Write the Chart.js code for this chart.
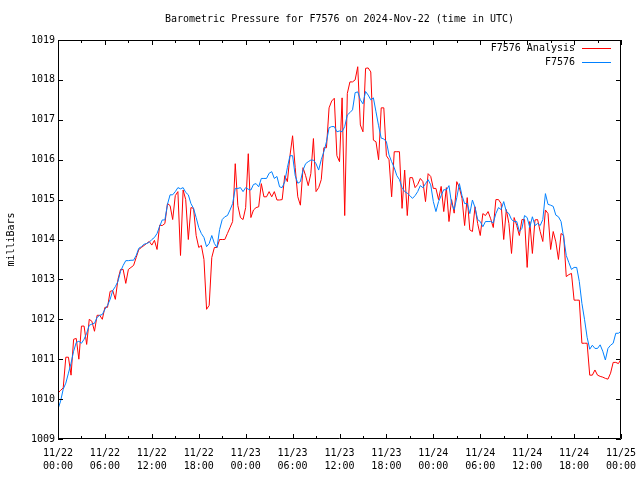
<!DOCTYPE html>
<html>
<head>
<meta charset="utf-8">
<script src="https://cdn.jsdelivr.net/npm/chart.js@4"></script>
<style>
  html, body { margin: 0; padding: 0; background: #fff; }
  canvas { display: block; }
</style>
</head>
<body>
<canvas id="chart" width="640" height="480"></canvas>
<script>
var TITLE = "Barometric Pressure for F7576 on 2024-Nov-22 (time in UTC)";
var FONT = "'DejaVu Sans Mono', 'Liberation Mono', monospace";

// samples every 20 minutes, 11/22 00:00 .. 11/25 00:00
var SAMPLE_HOURS = 1 / 3;

var xTickLabels = [
  ["11/22", "00:00"], ["11/22", "06:00"], ["11/22", "12:00"], ["11/22", "18:00"],
  ["11/23", "00:00"], ["11/23", "06:00"], ["11/23", "12:00"], ["11/23", "18:00"],
  ["11/24", "00:00"], ["11/24", "06:00"], ["11/24", "12:00"], ["11/24", "18:00"],
  ["11/25", "00:00"],
];

var analysisValues = [
  1010.15, 1010.22, 1010.28, 1011.05, 1011.05, 1010.6,
  1011.5, 1011.52, 1011.0, 1011.83, 1011.83, 1011.37,
  1012.0, 1011.95, 1011.7, 1012.1, 1012.1, 1012.0,
  1012.3, 1012.3, 1012.7, 1012.72, 1012.5, 1013.0,
  1013.25, 1013.25, 1012.9, 1013.25, 1013.3, 1013.35,
  1013.55, 1013.75, 1013.8, 1013.85, 1013.9, 1013.95,
  1013.86, 1013.98, 1013.75, 1014.36, 1014.35, 1014.4,
  1014.9, 1014.85, 1014.5, 1015.1, 1015.2, 1013.6,
  1015.24, 1015.0, 1014.0, 1014.8, 1014.78, 1014.1,
  1013.8, 1013.85, 1013.5, 1012.25, 1012.35, 1013.55,
  1013.8, 1013.8, 1014.0, 1014.0, 1014.0, 1014.15,
  1014.3, 1014.45, 1015.9, 1014.85, 1014.55, 1014.5,
  1014.8, 1016.15, 1014.55, 1014.74, 1014.8, 1014.82,
  1015.4, 1015.07, 1015.07, 1015.2, 1015.07, 1015.2,
  1014.99, 1014.99, 1015.0, 1015.6, 1015.45, 1016.1,
  1016.6, 1015.8, 1015.07, 1014.86, 1015.8, 1015.6,
  1015.35, 1015.65, 1016.53, 1015.2, 1015.3, 1015.5,
  1016.3, 1016.3, 1017.3, 1017.47, 1017.54, 1016.1,
  1015.95, 1017.55, 1014.6, 1017.66, 1017.95, 1017.95,
  1018.0, 1018.33, 1016.87, 1016.7, 1018.29, 1018.3,
  1018.2, 1016.49, 1016.45, 1016.0, 1017.3, 1017.3,
  1016.1, 1016.0, 1015.07, 1016.2, 1016.2, 1016.2,
  1014.78, 1015.74, 1014.6, 1015.55, 1015.55, 1015.3,
  1015.38, 1015.53, 1015.45, 1014.95, 1015.65, 1015.58,
  1015.28, 1015.28, 1015.0, 1015.33, 1014.7, 1015.3,
  1014.45, 1015.0, 1014.66, 1015.45, 1015.3, 1015.03,
  1014.35, 1015.05, 1014.24, 1014.2, 1014.82, 1014.4,
  1014.1, 1014.65, 1014.6, 1014.7, 1014.52, 1014.3,
  1015.0, 1015.0, 1014.9, 1014.0, 1014.75, 1014.4,
  1013.65, 1014.55, 1014.35, 1014.1, 1014.5, 1014.5,
  1013.3, 1014.45, 1013.65, 1014.49, 1014.5, 1014.2,
  1013.95, 1014.74, 1014.65, 1013.75, 1014.2, 1013.94,
  1013.5, 1014.15, 1014.1, 1013.07, 1013.12, 1013.15,
  1012.48, 1012.48, 1012.48, 1011.4, 1011.4, 1011.4,
  1010.6, 1010.6, 1010.73, 1010.6, 1010.57, 1010.55,
  1010.52, 1010.5, 1010.65, 1010.92, 1010.92, 1010.89,
  1011.0,
];

var stationValues = [
  1009.75, 1009.95, 1010.25, 1010.4, 1010.65, 1010.9,
  1011.2, 1011.42, 1011.45, 1011.4, 1011.5, 1011.65,
  1011.85, 1011.88, 1011.9, 1012.05, 1012.1, 1012.12,
  1012.25, 1012.35, 1012.5, 1012.72, 1012.82, 1012.95,
  1013.2, 1013.35, 1013.47, 1013.47, 1013.48, 1013.48,
  1013.6, 1013.78, 1013.82, 1013.88, 1013.9, 1013.93,
  1014.0, 1014.05, 1014.15, 1014.33, 1014.49, 1014.49,
  1014.88, 1015.12, 1015.12, 1015.2, 1015.3, 1015.27,
  1015.3, 1015.18, 1015.12, 1014.9, 1014.78, 1014.55,
  1014.3, 1014.15, 1014.05, 1013.82, 1013.9, 1014.1,
  1013.9, 1013.8, 1014.25, 1014.5, 1014.57, 1014.6,
  1014.74, 1014.9, 1015.28, 1015.28, 1015.3, 1015.2,
  1015.3, 1015.26, 1015.24, 1015.38, 1015.4, 1015.32,
  1015.53, 1015.53, 1015.53, 1015.66, 1015.7, 1015.53,
  1015.58, 1015.32, 1015.3, 1015.45, 1015.8, 1016.1,
  1016.1, 1015.6, 1015.41, 1015.45, 1015.74, 1015.9,
  1015.95, 1015.99, 1015.99, 1015.9, 1015.74, 1016.0,
  1016.2, 1016.45, 1016.8, 1016.83, 1016.83, 1016.7,
  1016.72, 1016.7, 1016.83, 1017.12, 1017.18, 1017.25,
  1017.68, 1017.7, 1017.5, 1017.4, 1017.71, 1017.62,
  1017.5, 1017.55, 1017.2, 1016.85, 1016.54, 1016.52,
  1016.45, 1016.12, 1015.95, 1015.8, 1015.6, 1015.5,
  1015.3, 1015.2, 1015.16, 1015.1, 1015.03, 1015.1,
  1015.2, 1015.35, 1015.3, 1015.4, 1015.5, 1015.37,
  1014.95, 1014.7, 1014.95, 1015.1, 1015.25, 1015.24,
  1015.35, 1014.9, 1014.75, 1015.05, 1015.4, 1015.1,
  1014.9, 1014.9, 1014.65, 1014.99, 1014.8, 1014.5,
  1014.45, 1014.32, 1014.45, 1014.45, 1014.45, 1014.42,
  1014.65, 1014.8, 1014.75, 1014.95, 1014.7, 1014.65,
  1014.5, 1014.45, 1014.45, 1014.2, 1014.28, 1014.6,
  1014.55, 1014.3, 1014.57, 1014.35, 1014.4, 1014.35,
  1014.5, 1015.15, 1014.88, 1014.86, 1014.83, 1014.61,
  1014.57, 1014.45, 1014.05, 1013.6, 1013.42, 1013.25,
  1013.3, 1013.3, 1012.95, 1012.4, 1012.0, 1011.55,
  1011.25, 1011.35, 1011.27, 1011.27, 1011.36, 1011.2,
  1010.98, 1011.27, 1011.35, 1011.4, 1011.65, 1011.65,
  1011.7,
];

var COLORS = {
  analysis: "#ff0000",
  station: "#0080ff",
  text: "#000000",
};

function toPoints(values) {
  return values.map(function (v, i) {
    return { x: i * SAMPLE_HOURS, y: v };
  });
}

function seriesDataset(label, values, color, order) {
  return {
    label: label,
    data: toPoints(values),
    borderColor: color,
    backgroundColor: color,
    borderWidth: 1,
    pointRadius: 0,
    tension: 0,
    fill: false,
    order: order,
  };
}

// gnuplot style frame, inward ticks, title and legend
var framePlugin = {
  id: "frame",
  afterDraw: function (chart) {
    var ctx = chart.ctx;
    var a = chart.chartArea;
    var xs = chart.scales.x;
    var ys = chart.scales.y;
    ctx.save();
    ctx.strokeStyle = COLORS.text;
    ctx.lineWidth = 1;
    ctx.beginPath();
    ctx.rect(a.left + 0.5, a.top + 0.5, a.right - a.left - 1, a.bottom - a.top - 1);
    for (var h = 0; h <= 72; h += 3) {
      var px = Math.round(xs.getPixelForValue(h)) + 0.5;
      var len = h % 6 === 0 ? 5 : 3;
      ctx.moveTo(px, a.bottom);
      ctx.lineTo(px, a.bottom - len);
      ctx.moveTo(px, a.top);
      ctx.lineTo(px, a.top + len);
    }
    for (var p = 1009; p <= 1019; p += 1) {
      var py = Math.round(ys.getPixelForValue(p)) + 0.5;
      ctx.moveTo(a.left, py);
      ctx.lineTo(a.left + 5, py);
      ctx.moveTo(a.right, py);
      ctx.lineTo(a.right - 5, py);
    }
    ctx.stroke();

    ctx.fillStyle = COLORS.text;
    ctx.font = "10px " + FONT;
    ctx.textAlign = "center";
    ctx.textBaseline = "middle";
    ctx.fillText(TITLE, (a.left + a.right) / 2, 19);

    ctx.textAlign = "right";
    var legendItems = [chart.data.datasets[0], chart.data.datasets[1]];
    legendItems.forEach(function (ds, i) {
      var ly = 48 + i * 14;
      ctx.fillStyle = COLORS.text;
      ctx.fillText(ds.label, 575, ly);
      ctx.strokeStyle = ds.borderColor;
      ctx.beginPath();
      ctx.moveTo(582, ly + 0.5);
      ctx.lineTo(611, ly + 0.5);
      ctx.stroke();
    });
    ctx.restore();
  },
};

var ctx = document.getElementById("chart").getContext("2d");
new Chart(ctx, {
  type: "line",
  data: {
    datasets: [
      seriesDataset("F7576 Analysis", analysisValues, COLORS.analysis, 1),
      seriesDataset("F7576", stationValues, COLORS.station, 0),
    ],
  },
  plugins: [framePlugin],
  options: {
    responsive: false,
    devicePixelRatio: 1,
    animation: false,
    events: [],
    layout: { padding: { left: 0, right: 19, top: 40, bottom: 0 } },
    plugins: {
      legend: { display: false },
      tooltip: { enabled: false },
      title: { display: false },
    },
    scales: {
      x: {
        type: "linear",
        min: 0,
        max: 72,
        border: { display: false },
        grid: { display: false, drawTicks: false },
        afterFit: function (scale) {
          scale.height = 41;
          scale.paddingLeft = 0;
          scale.paddingRight = 0;
        },
        ticks: {
          stepSize: 6,
          autoSkip: false,
          maxRotation: 0,
          padding: 8,
          color: COLORS.text,
          font: { family: FONT, size: 10, lineHeight: 1.3 },
          callback: function (value, index) {
            return xTickLabels[index];
          },
        },
      },
      y: {
        min: 1009,
        max: 1019,
        border: { display: false },
        grid: { display: false, drawTicks: false },
        afterFit: function (scale) {
          scale.width = 58;
        },
        title: {
          display: true,
          text: "milliBars",
          color: COLORS.text,
          font: { family: FONT, size: 10 },
          padding: { top: 5, bottom: 0 },
        },
        ticks: {
          stepSize: 1,
          padding: 3,
          color: COLORS.text,
          font: { family: FONT, size: 10 },
          callback: function (value) {
            return String(value);
          },
        },
      },
    },
  },
});
</script>
</body>
</html>
